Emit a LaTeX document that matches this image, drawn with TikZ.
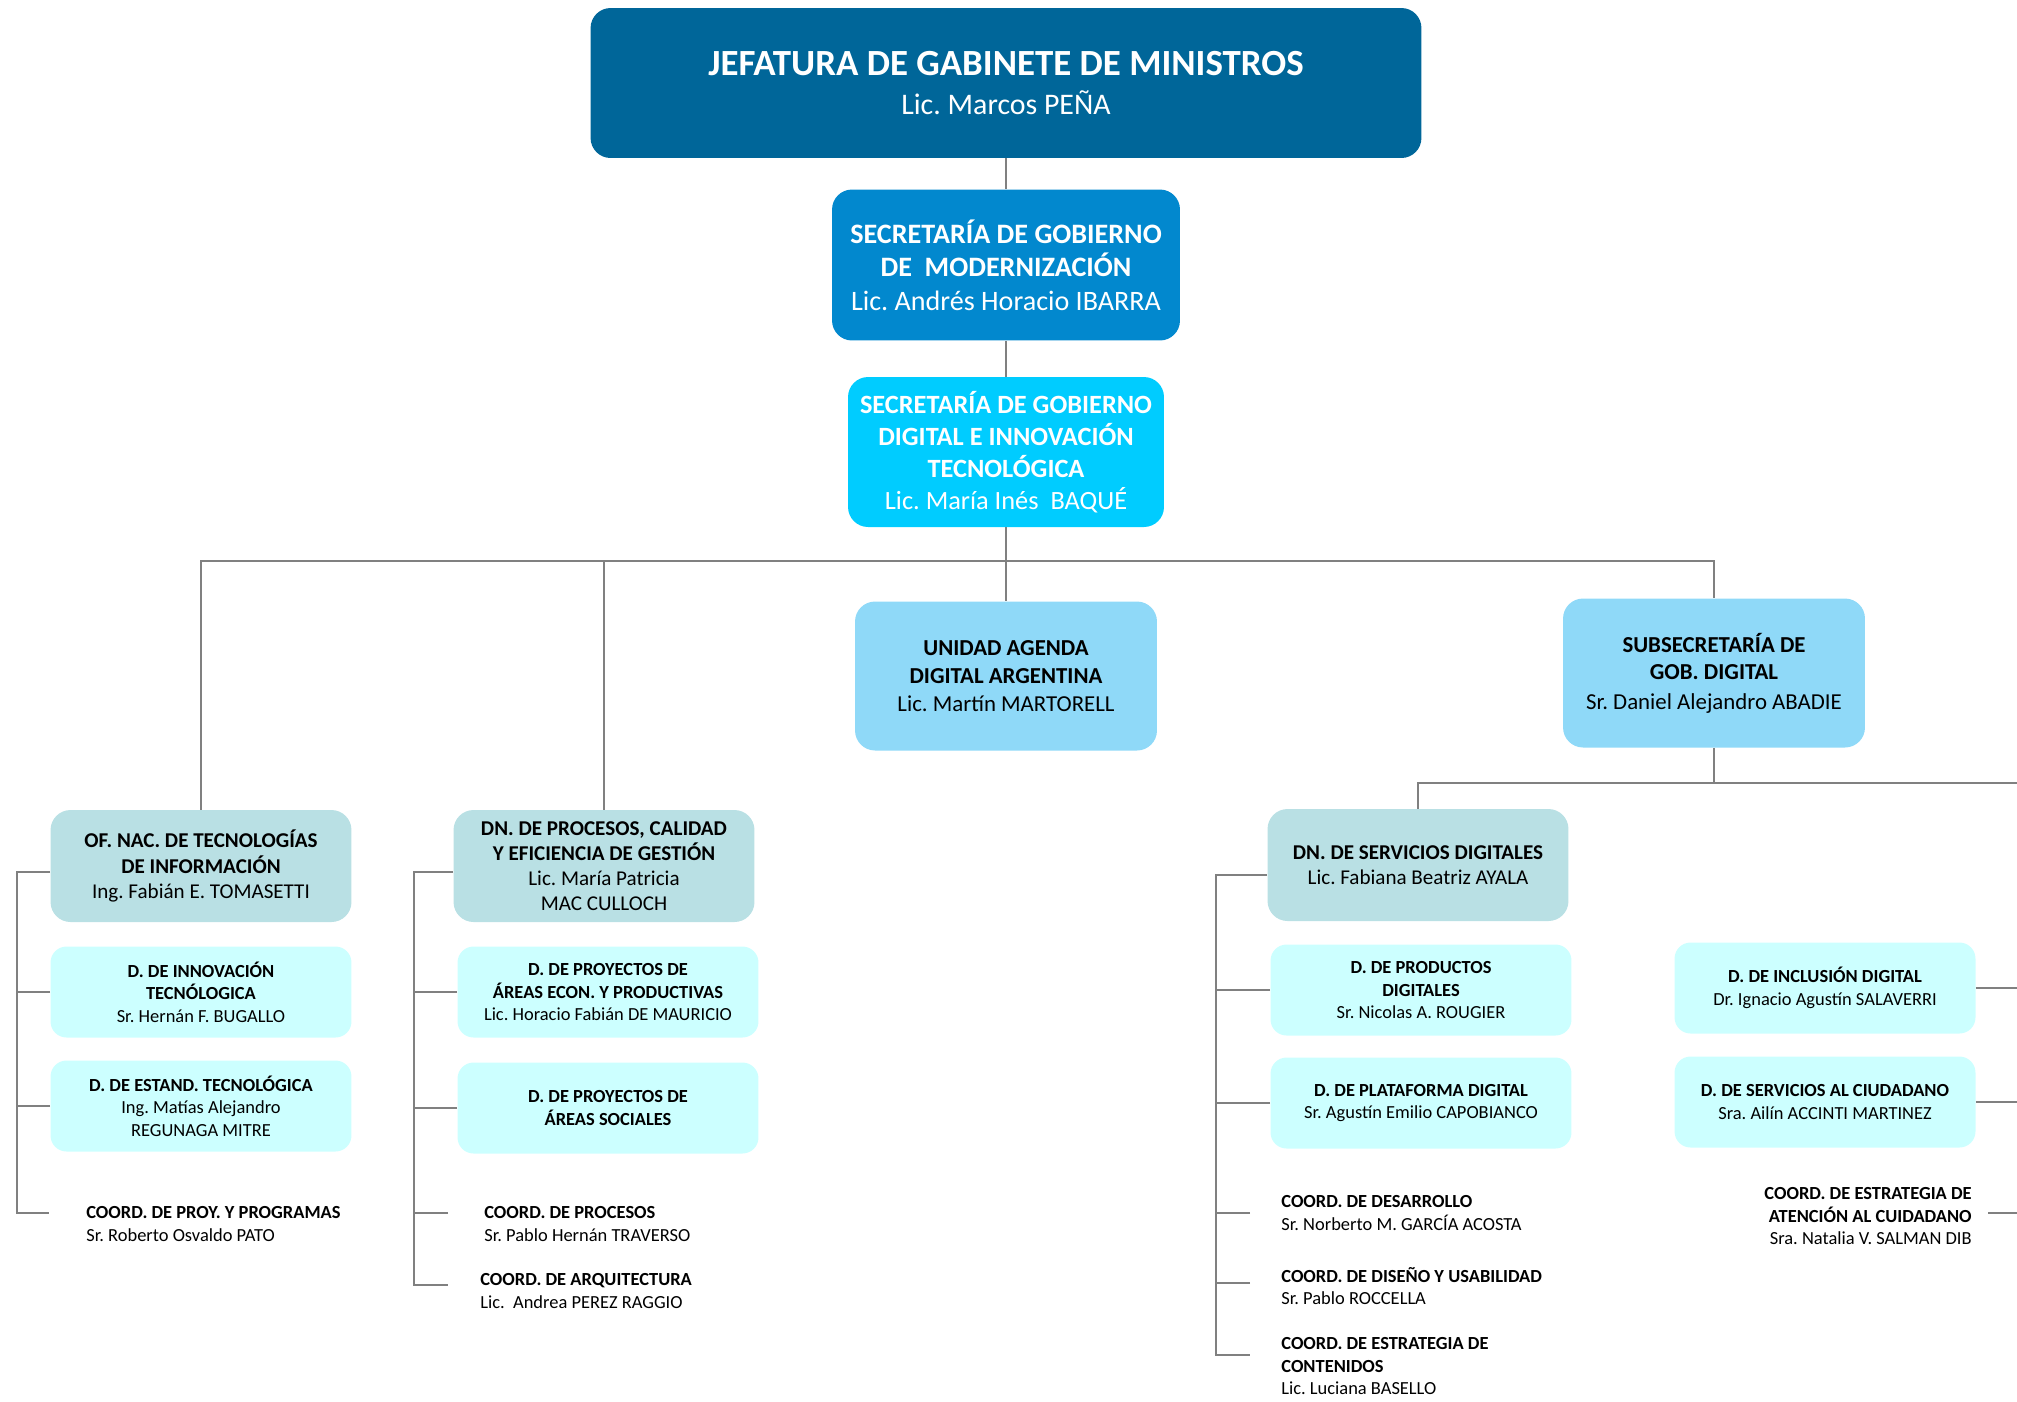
\documentclass[tikz,border=0pt]{standalone}
\usepackage{fontspec}
\setmainfont{Carlito}
\usetikzlibrary{positioning,calc}
\frenchspacing

\definecolor{jefeblue}{HTML}{006699}
\definecolor{secblue}{HTML}{0288CE}
\definecolor{digblue}{HTML}{00CCFF}
\definecolor{subblue}{HTML}{8FD9F8}
\definecolor{dngray}{HTML}{B9E0E4}
\definecolor{dcyan}{HTML}{CCFFFF}

\tikzset{
    unit/.style={rounded corners=0.4cm, align=center, inner sep=2pt},
    jefe/.style={unit, fill=jefeblue, text=white, minimum width=16.62cm, minimum height=3cm,
        font=\fontsize{21}{21}\selectfont},
    sec/.style={unit, fill=secblue, text=white, minimum width=6.96cm, minimum height=3.02cm,
        font=\fontsize{16}{19}\selectfont},
    secdig/.style={unit, fill=digblue, text=white, minimum width=6.32cm, minimum height=3cm,
        font=\fontsize{15}{18.2}\selectfont},
    subsec/.style={unit, fill=subblue, minimum width=6.04cm, minimum height=2.98cm,
        font=\fontsize{13}{15.8}\selectfont},
    dnbox/.style={unit, fill=dngray, minimum width=6.02cm, minimum height=2.24cm,
        font=\fontsize{12}{14.3}\selectfont},
    dbox/.style={unit, rounded corners=0.32cm, fill=dcyan, minimum width=6.02cm, minimum height=1.82cm,
        font=\fontsize{10.5}{12.8}\selectfont},
    coord/.style={align=left, anchor=west, inner sep=0pt, font=\fontsize{10.5}{12.8}\selectfont},
    link/.style={draw=gray, line width=1pt}
}

\begin{document}
\begin{tikzpicture}[x=0.02cm, y=-0.02cm]
\useasboundingbox (0,0) rectangle (2017,1401);

% upper levels
\node[jefe] (jgm) at (1006,83)
    {\textbf{JEFATURA DE GABINETE DE MINISTROS}\\[1pt]{\fontsize{17}{20}\selectfont Lic. Marcos PEÑA}};
\node[sec] (sgm) at (1006,265)
    {\textbf{SECRETARÍA DE GOBIERNO}\\\textbf{DE\ \ MODERNIZACIÓN}\\Lic. Andrés Horacio IBARRA};
\node[secdig] (sgd) at (1006,452)
    {\textbf{SECRETARÍA DE GOBIERNO}\\\textbf{DIGITAL E INNOVACIÓN}\\\textbf{TECNOLÓGICA}\\Lic. María Inés\ \ BAQUÉ};
\node[subsec] (uada) at (1006,676)
    {\textbf{UNIDAD AGENDA}\\\textbf{DIGITAL ARGENTINA}\\Lic. Martín MARTORELL};
\node[subsec] (ssgd) at (1714,673)
    {\textbf{SUBSECRETARÍA DE}\\\textbf{GOB. DIGITAL}\\[1pt]Sr. Daniel Alejandro ABADIE};

% national offices
\node[dnbox] (onti) at (201,866)
    {\textbf{OF. NAC. DE TECNOLOGÍAS}\\\textbf{DE INFORMACIÓN}\\Ing. Fabián E. TOMASETTI};
\node[dnbox] (dnpc) at (604,866)
    {\textbf{DN. DE PROCESOS, CALIDAD}\\\textbf{Y EFICIENCIA DE GESTIÓN}\\Lic. María Patricia\\MAC CULLOCH};
\node[dnbox] (dnsd) at (1418,865)
    {\textbf{DN. DE SERVICIOS DIGITALES}\\Lic. Fabiana Beatriz AYALA};

% directions
\node[dbox] (dinn) at (201,992)
    {\textbf{D. DE INNOVACIÓN}\\\textbf{TECNÓLOGICA}\\Sr. Hernán F. BUGALLO};
\node[dbox] (dest) at (201,1106)
    {\textbf{D. DE ESTAND. TECNOLÓGICA}\\Ing. Matías Alejandro\\REGUNAGA MITRE};
\node[dbox] (dpae) at (608,992)
    {\textbf{D. DE PROYECTOS DE}\\\textbf{ÁREAS ECON. Y PRODUCTIVAS}\\Lic. Horacio Fabián DE MAURICIO};
\node[dbox] (dpas) at (608,1108)
    {\textbf{D. DE PROYECTOS DE}\\\textbf{ÁREAS SOCIALES}};
\node[dbox] (dpd) at (1421,990)
    {\textbf{D. DE PRODUCTOS}\\\textbf{DIGITALES}\\Sr. Nicolas A. ROUGIER};
\node[dbox] (dplat) at (1421,1103)
    {\textbf{D. DE PLATAFORMA DIGITAL}\\Sr. Agustín Emilio CAPOBIANCO};
\node[dbox] (dincl) at (1825,988)
    {\textbf{D. DE INCLUSIÓN DIGITAL}\\Dr. Ignacio Agustín SALAVERRI};
\node[dbox] (dserv) at (1825,1102)
    {\textbf{D. DE SERVICIOS AL CIUDADANO}\\Sra. Ailín ACCINTI MARTINEZ};

% coordinations
\node[coord] (cpp) at (86,1224)
    {\textbf{COORD. DE PROY. Y PROGRAMAS}\\Sr. Roberto Osvaldo PATO};
\node[coord] (cproc) at (484,1224)
    {\textbf{COORD. DE PROCESOS}\\Sr. Pablo Hernán TRAVERSO};
\node[coord] (carq) at (480,1291)
    {\textbf{COORD. DE ARQUITECTURA}\\Lic.\ \ Andrea PEREZ RAGGIO};
\node[coord] (cdes) at (1281,1213)
    {\textbf{COORD. DE DESARROLLO}\\Sr. Norberto M. GARCÍA ACOSTA};
\node[coord] (cdis) at (1281,1286)
    {\textbf{COORD. DE DISEÑO Y USABILIDAD}\\Sr. Pablo ROCCELLA};
\node[coord] (ccont) at (1281,1366)
    {\textbf{COORD. DE ESTRATEGIA DE}\\\textbf{CONTENIDOS}\\Lic. Luciana BASELLO};
\node[coord, anchor=east, align=right] (catn) at (1972,1216)
    {\textbf{COORD. DE ESTRATEGIA DE}\\\textbf{ATENCIÓN AL CUIDADANO}\\Sra. Natalia V. SALMAN DIB};

% connectors
\coordinate (bus) at (1006,561);
\coordinate (subbus) at (1714,783);
\coordinate (rim) at (2017,0);
\coordinate (ontispine) at (17,0);
\coordinate (procspine) at (414,0);
\coordinate (servspine) at (1216,0);
\coordinate (cppin) at (49,1213);
\coordinate (cprocin) at (448,1213);
\coordinate (carqin) at (448,1285);
\coordinate (cdesin) at (1250,1213);
\coordinate (cdisin) at (1250,1283);
\coordinate (ccontin) at (1250,1355);
\coordinate (catnin) at (1988,1213);

\draw[link] (jgm.south) -- (sgm.north);
\draw[link] (sgm.south) -- (sgd.north);
\draw[link] (sgd.south) -- (uada.north);
\draw[link] (onti.north) |- (bus) -| (ssgd.north);
\draw[link] (dnpc.north) -- (dnpc.north |- bus);
\draw[link] (ssgd.south) -- (subbus) -| (dnsd.north);
\draw[link] (subbus) -- (subbus -| rim);

\draw[link] ([yshift=-0.12cm]onti.west) -- ([yshift=-0.12cm]onti.west -| ontispine) |- (cppin);
\draw[link] (dinn.west) -- (dinn.west -| ontispine);
\draw[link] (dest.west) -- (dest.west -| ontispine);

\draw[link] ([yshift=-0.12cm]dnpc.west) -- ([yshift=-0.12cm]dnpc.west -| procspine) |- (carqin);
\draw[link] (dpae.west) -- (dpae.west -| procspine);
\draw[link] (dpas.west) -- (dpas.west -| procspine);
\draw[link] (cprocin) -- (cprocin -| procspine);

\draw[link] ([yshift=-0.2cm]dnsd.west) -- ([yshift=-0.2cm]dnsd.west -| servspine) |- (ccontin);
\draw[link] (dpd.west) -- (dpd.west -| servspine);
\draw[link] (dplat.west) -- (dplat.west -| servspine);
\draw[link] (cdesin) -- (cdesin -| servspine);
\draw[link] (cdisin) -- (cdisin -| servspine);

\draw[link] (dincl.east) -- (dincl.east -| rim);
\draw[link] (dserv.east) -- (dserv.east -| rim);
\draw[link] (catnin) -- (catnin -| rim);
\end{tikzpicture}
\end{document}
